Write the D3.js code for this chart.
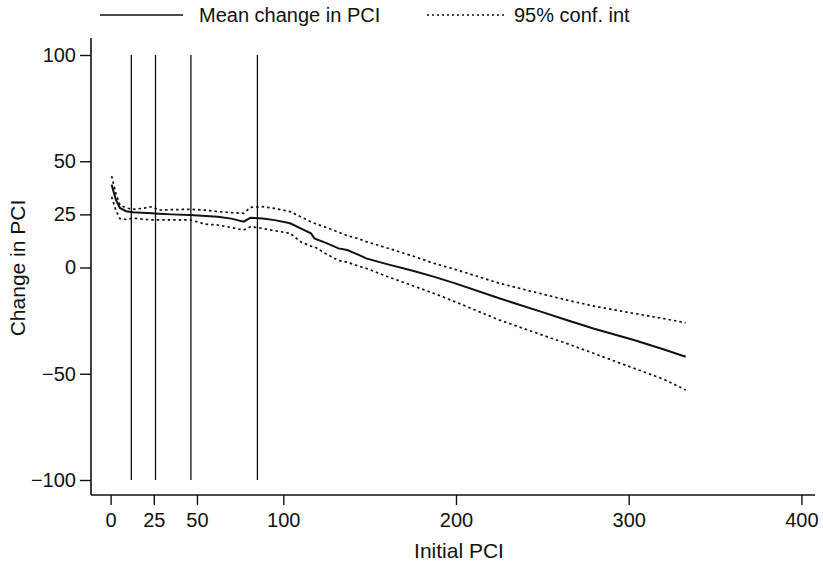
<!DOCTYPE html>
<html>
<head>
<meta charset="utf-8">
<script src="https://cdn.jsdelivr.net/npm/d3@7"></script>
<style>
  body { margin: 0; background: #fff; }
  text { font-family: "Liberation Sans", Arial, sans-serif; fill: #111; }
</style>
</head>
<body>
<svg id="chart" width="823" height="567"></svg>
<script>
// initial PCI grid
var pci = [0.6, 3, 5.4, 9, 13, 18, 24, 28, 35, 46, 55, 62, 70, 77, 81, 88, 95, 104, 110, 116, 118, 125, 132, 137, 143, 148, 160, 175, 187, 200, 225, 250, 264, 280, 303, 320, 333];
var meanChange = [39, 32, 28, 26.5, 26, 25.8, 25.5, 25.3, 25, 24.7, 24.2, 23.9, 23, 21.6, 23.4, 23.1, 22.3, 20.8, 18.4, 16.1, 13.7, 11.5, 9, 8.2, 6.2, 4.3, 1.6, -1.5, -4.3, -7.6, -14.5, -21, -24.7, -28.8, -34.1, -38.5, -42];
var upperCI = [43, 35, 29.4, 28, 27.4, 27.8, 28.6, 27, 27.2, 27.4, 27, 26.3, 25.8, 25.5, 28.3, 28.6, 27.8, 26.3, 23.9, 21.5, 20.8, 18.8, 16.6, 15, 13.7, 12.2, 9.2, 5.4, 2, -1, -7.4, -12.5, -15.3, -18.2, -21.6, -24, -26];
var lowerCI = [33.3, 27, 23, 22.6, 23.2, 22.8, 22.4, 22.4, 22.4, 22.4, 20.4, 20, 18.8, 17.6, 19.2, 18.4, 17.3, 16.1, 12.1, 10, 9.8, 6.3, 3.3, 2.5, 0.8, -0.4, -4.2, -8.6, -12.1, -16.3, -24.7, -31.8, -35.7, -40.5, -47.4, -52.5, -57.6];
// reference lines
var refLines = [12, 26, 46.5, 85];
var xTicks = [0, 25, 50, 100, 200, 300, 400];
var yTicks = [-100, -50, 0, 25, 50, 100];

var svg = d3.select("#chart");

var x = d3.scaleLinear().domain([0, 400]).range([110.6, 801.4]);
var y = d3.scaleLinear().domain([-100, 100]).range([480, 55]);

// axes
var xAxis = svg.append("g")
    .attr("transform", "translate(0,495)")
    .call(d3.axisBottom(x).tickValues(xTicks).tickSize(10).tickPadding(8).tickFormat(d3.format("d")));
xAxis.select(".domain").remove();
xAxis.append("line").attr("x1", 91).attr("x2", 815).attr("stroke", "#111").attr("stroke-width", 1.6);

var yAxis = svg.append("g")
    .attr("transform", "translate(91,0)")
    .call(d3.axisLeft(y).tickValues(yTicks).tickSize(11).tickPadding(4).tickFormat(function (d) { return d < 0 ? "\u2212" + Math.abs(d) : d; }));
yAxis.select(".domain").remove();
yAxis.append("line").attr("y1", 38).attr("y2", 495).attr("stroke", "#111").attr("stroke-width", 1.6);

svg.selectAll(".tick line").attr("stroke", "#111").attr("stroke-width", 1.4);
svg.selectAll(".tick text").style("font-size", "20px").attr("fill", "#111");

// vertical reference lines
svg.selectAll(".ref").data(refLines).enter().append("line")
    .attr("class", "ref")
    .attr("x1", function (d) { return x(d); })
    .attr("x2", function (d) { return x(d); })
    .attr("y1", y(100)).attr("y2", y(-100))
    .attr("stroke", "#111").attr("stroke-width", 1.3);

var line = function (vals) {
    return d3.line()
        .x(function (d, i) { return x(pci[i]); })
        .y(function (d) { return y(d); })(vals);
};

svg.append("path").attr("d", line(upperCI))
    .attr("fill", "none").attr("stroke", "#111").attr("stroke-width", 1.7).attr("stroke-dasharray", "2.5,3");
svg.append("path").attr("d", line(lowerCI))
    .attr("fill", "none").attr("stroke", "#111").attr("stroke-width", 1.7).attr("stroke-dasharray", "2.5,3");
svg.append("path").attr("d", line(meanChange))
    .attr("fill", "none").attr("stroke", "#111").attr("stroke-width", 2);

// axis titles
svg.append("text").attr("x", 459).attr("y", 558).attr("text-anchor", "middle")
    .style("font-size", "21px").text("Initial PCI");
svg.append("text").attr("transform", "translate(25,268) rotate(-90)").attr("text-anchor", "middle")
    .style("font-size", "21px").text("Change in PCI");

// legend
var legend = svg.append("g");
legend.append("line").attr("x1", 100).attr("x2", 183).attr("y1", 15).attr("y2", 15)
    .attr("stroke", "#111").attr("stroke-width", 1.3);
legend.append("text").attr("x", 199).attr("y", 22).style("font-size", "20px").text("Mean change in PCI");
legend.append("line").attr("x1", 427).attr("x2", 505).attr("y1", 15).attr("y2", 15)
    .attr("stroke", "#111").attr("stroke-width", 1.3).attr("stroke-dasharray", "2,3");
legend.append("text").attr("x", 514).attr("y", 22).style("font-size", "20px").text("95% conf. int");
</script>
</body>
</html>
